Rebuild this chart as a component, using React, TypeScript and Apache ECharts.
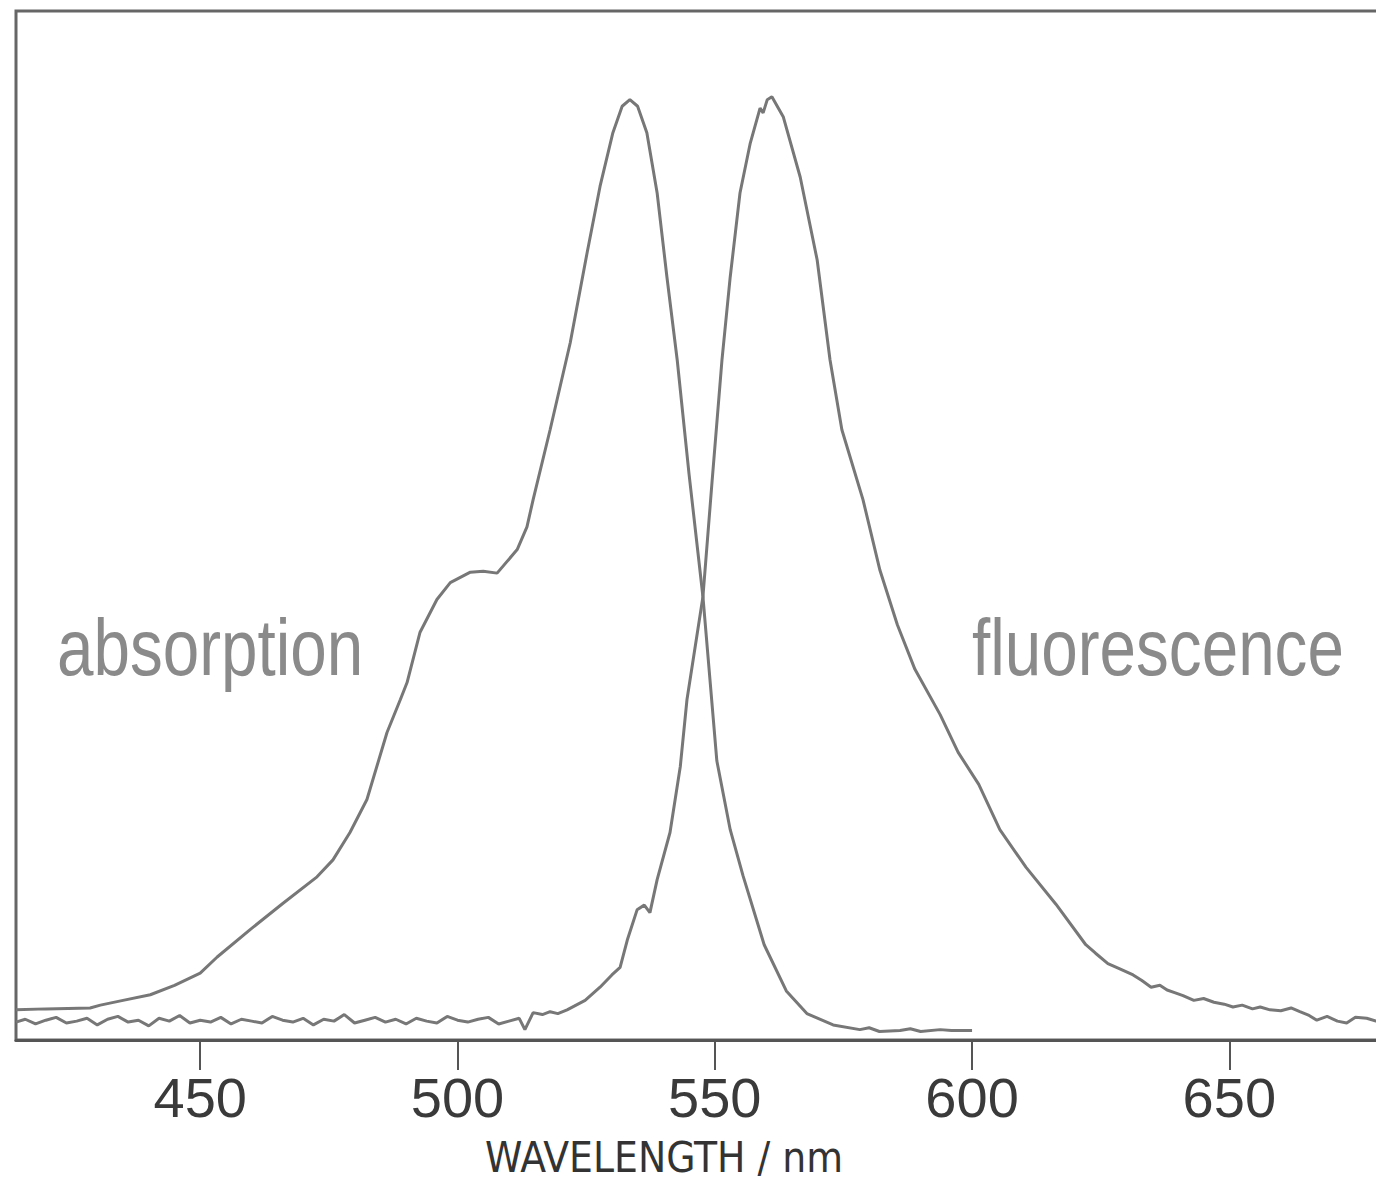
import React, { useEffect, useRef } from "react";
import * as echarts from "echarts";

// wavelength (nm), normalized intensity
const absorption: [number, number][] = [
  [414.2, 0.032], [420, 0.033], [428.6, 0.034], [430.6, 0.037], [435, 0.042], [440.3, 0.048],
  [445, 0.058], [450, 0.071], [453.3, 0.088], [459.7, 0.117], [466.1, 0.145], [472.7, 0.173],
  [475.8, 0.191], [479.1, 0.22], [482.4, 0.255], [486.3, 0.326], [488.9, 0.361], [490.2, 0.379],
  [492.7, 0.432], [496.0, 0.467], [498.6, 0.485], [502.5, 0.496], [505, 0.497], [507.7, 0.495],
  [511.6, 0.52], [513.5, 0.544], [514.7, 0.573], [518.0, 0.647], [521.9, 0.739], [525.2, 0.835],
  [527.7, 0.905], [530.2, 0.962], [532, 0.99], [533.5, 0.997], [535, 0.99], [536.8, 0.962],
  [538.8, 0.898], [540.7, 0.809], [542.7, 0.721], [545, 0.6], [547.7, 0.47], [550.4, 0.296],
  [553.0, 0.223], [555.5, 0.174], [559.6, 0.101], [563.9, 0.052], [567.9, 0.028], [573.0, 0.016],
  [578.2, 0.011], [580, 0.013], [582, 0.009], [586.0, 0.01], [588, 0.012], [590, 0.009],
  [593.8, 0.011], [596, 0.01], [600.0, 0.01],
];

const fluorescence: [number, number][] = [
  [414.2, 0.019], [416, 0.022], [418, 0.017], [420, 0.021], [422, 0.024], [424, 0.018], [426, 0.02],
  [428, 0.023], [430, 0.016], [432, 0.022], [434, 0.025], [436, 0.019], [438, 0.021], [440, 0.015],
  [442, 0.023], [444, 0.02], [446, 0.026], [448, 0.018], [450, 0.021], [452, 0.019], [454, 0.024],
  [456, 0.017], [458, 0.022], [460, 0.02], [462, 0.018], [464, 0.025], [466, 0.021], [468, 0.019],
  [470, 0.023], [472, 0.016], [474, 0.022], [476, 0.02], [478, 0.027], [480, 0.018], [482, 0.021],
  [484, 0.024], [486, 0.019], [488, 0.022], [490, 0.017], [492, 0.023], [494, 0.02], [496, 0.018],
  [498, 0.025], [500, 0.021], [502, 0.019], [504, 0.022], [506, 0.024], [508, 0.017], [510, 0.02],
  [512, 0.023], [513.1, 0.011], [514.7, 0.029], [516.5, 0.027], [518.0, 0.03], [519.5, 0.028],
  [521.3, 0.032], [524.8, 0.042], [527.7, 0.056], [530.0, 0.069], [531.6, 0.077], [533.0, 0.106],
  [534.9, 0.138], [536.3, 0.143], [537.4, 0.135], [538.8, 0.17], [541.3, 0.22], [543.3, 0.29],
  [544.6, 0.361], [547.7, 0.47], [549.5, 0.594], [551.4, 0.721], [553.0, 0.809], [554.9, 0.898],
  [556.9, 0.951], [558.8, 0.988], [559.4, 0.983], [560.2, 0.997], [561.1, 1.0], [563.3, 0.979],
  [566.6, 0.915], [569.9, 0.827], [572.4, 0.721], [574.7, 0.647], [578.8, 0.573], [582.1, 0.498],
  [585.5, 0.44], [588.9, 0.393], [593.8, 0.345], [597.3, 0.305], [601.3, 0.271], [605.4, 0.223],
  [610.5, 0.183], [616.3, 0.144], [622.1, 0.101], [624, 0.092], [626.4, 0.081], [628.5, 0.076],
  [631.3, 0.069], [633, 0.063], [634.8, 0.056], [636.5, 0.058], [637.9, 0.053], [639.5, 0.05],
  [641, 0.047], [643.1, 0.042], [645, 0.044], [647, 0.04], [649, 0.038], [650.7, 0.035],
  [652.5, 0.037], [654.5, 0.033], [656, 0.035], [657.9, 0.032], [660, 0.031], [662, 0.034],
  [663.7, 0.03], [665.5, 0.026], [667, 0.021], [669, 0.025], [671, 0.02], [672.8, 0.018],
  [674.5, 0.024], [676.7, 0.023], [678.5, 0.02], [680, 0.022], [682, 0.021],
];

const tickValues = [450, 500, 550, 600, 650];
const seriesLabels = ["absorption", "fluorescence"];
const axisTitle = "WAVELENGTH / nm";

const COND = '"DejaVu Sans Condensed", "Liberation Sans", sans-serif';
const SANS = '"Liberation Sans", Arial, sans-serif';

export default function App() {
  const ref = useRef<HTMLDivElement>(null);
  useEffect(() => {
    if (!ref.current) return;
    const chart = echarts.init(ref.current, undefined, { renderer: "svg" });
    chart.setOption({
      animation: false,
      backgroundColor: "#ffffff",
      grid: {
        left: 16,
        top: 11,
        right: 26,
        bottom: 151,
        outerBoundsMode: "none",
        containLabel: false,
        show: true,
        borderColor: "#666",
        borderWidth: 3,
        backgroundColor: "transparent",
      },
      xAxis: {
        type: "value",
        min: 414.2,
        max: 682,
        name: axisTitle,
        nameLocation: "middle",
        nameGap: 96,
        nameTextStyle: {
          fontFamily: COND,
          fontSize: 42,
          color: "#333",
          padding: [0, 82, 0, 0],
        },
        axisLine: { show: true, lineStyle: { color: "#555", width: 3 } },
        axisTick: {
          show: true,
          customValues: tickValues,
          length: 30,
          inside: false,
          lineStyle: { color: "#555", width: 2 },
        },
        axisLabel: {
          customValues: tickValues,
          margin: 29,
          fontFamily: SANS,
          fontSize: 56,
          color: "#3a3a3a",
        },
        splitLine: { show: false },
      },
      yAxis: {
        type: "value",
        min: 0,
        max: 1.091,
        axisLine: { show: false },
        axisTick: { show: false },
        axisLabel: { show: false },
        splitLine: { show: false },
      },
      series: [
        {
          name: seriesLabels[0],
          type: "line",
          data: absorption,
          showSymbol: false,
          smooth: false,
          lineStyle: { color: "#777", width: 3 },
        },
        {
          name: seriesLabels[1],
          type: "line",
          data: fluorescence,
          showSymbol: false,
          smooth: false,
          lineStyle: { color: "#777", width: 3 },
        },
      ],
      graphic: [
        {
          type: "text",
          x: 57,
          y: 648,
          scaleX: 0.82,
          style: {
            text: seriesLabels[0],
            fontFamily: SANS,
            fontSize: 80,
            fill: "#8a8a8a",
            align: "left",
            verticalAlign: "middle",
          },
        },
        {
          type: "text",
          x: 972,
          y: 648,
          scaleX: 0.82,
          style: {
            text: seriesLabels[1],
            fontFamily: SANS,
            fontSize: 80,
            fill: "#8a8a8a",
            align: "left",
            verticalAlign: "middle",
          },
        },
      ],
    });
    return () => chart.dispose();
  }, []);
  return (
    <div
      style={{
        position: "fixed",
        left: 0,
        top: 0,
        width: 1376,
        height: 1191,
        overflow: "hidden",
        background: "#fff",
      }}
    >
      <div ref={ref} style={{ width: 1420, height: 1191 }} />
    </div>
  );
}
